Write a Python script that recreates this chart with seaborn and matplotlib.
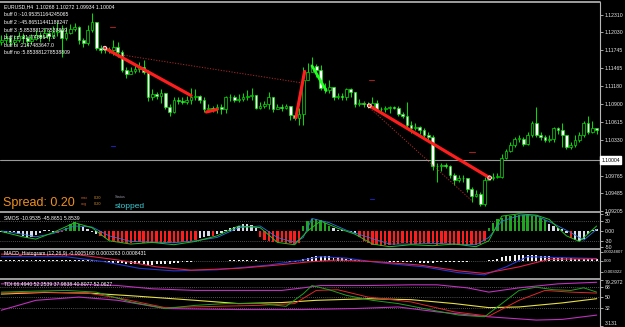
import numpy as np
import matplotlib
matplotlib.use("Agg")
import matplotlib.pyplot as plt
import seaborn as sns
from matplotlib.lines import Line2D

sns.set_theme(style="dark", rc={"axes.facecolor": "black", "figure.facecolor": "black"})
plt.rcParams["font.family"] = ["Liberation Sans", "DejaVu Sans"]

# ---------------- data ----------------
open_first = 1.1188
closes = [1.1191, 1.1194, 1.1188, 1.1191, 1.1197, 1.1194, 1.1189, 1.1193, 1.1199, 1.1196,
          1.1202, 1.1197, 1.1204, 1.1207, 1.1194, 1.1202, 1.1208, 1.1211, 1.1191, 1.1186,
          1.1207, 1.1219, 1.1178, 1.1175, 1.1177, 1.1175, 1.1180, 1.1172, 1.1144, 1.1137,
          1.1142, 1.1145, 1.1148, 1.1141, 1.1100, 1.1106, 1.1103, 1.1107, 1.1085, 1.1077,
          1.1096, 1.1095, 1.1093, 1.1096, 1.1101, 1.1103, 1.1096, 1.1081, 1.1084, 1.1082,
          1.1085, 1.1081, 1.1100, 1.1101, 1.1096, 1.1098, 1.1101, 1.1103, 1.1104, 1.1084,
          1.1087, 1.1090, 1.1100, 1.1081, 1.1085, 1.1084, 1.1087, 1.1073, 1.1068, 1.1074,
          1.1128, 1.1141, 1.1150, 1.1144, 1.1115, 1.1112, 1.1117, 1.1100, 1.1103, 1.1101,
          1.1114, 1.1109, 1.1090, 1.1092, 1.1089, 1.1087, 1.1092, 1.1082, 1.1081, 1.1084,
          1.1085, 1.1084, 1.1074, 1.1071, 1.1057, 1.1052, 1.1054, 1.1048, 1.1040, 1.1037,
          1.0991, 1.0992, 1.0994, 1.0992, 1.0977, 1.0970, 1.0973, 1.0972, 1.0955, 1.0945,
          1.0947, 1.0931, 1.0970, 1.0973, 1.0975, 1.0975, 1.1005, 1.1016, 1.1025, 1.1035,
          1.1035, 1.1027, 1.1041, 1.1059, 1.1041, 1.1037, 1.1033, 1.1035, 1.1051, 1.1048,
          1.1041, 1.1021, 1.1025, 1.1033, 1.1041, 1.1059, 1.1046, 1.1052, 1.1048]
highs = [1.1199, 1.1202, 1.1197, 1.1199, 1.1204, 1.1202, 1.1197, 1.1200, 1.1207, 1.1204,
         1.1210, 1.1207, 1.1213, 1.1219, 1.1215, 1.1211, 1.1216, 1.1218, 1.1213, 1.1194,
         1.1215, 1.1234, 1.1219, 1.1183, 1.1182, 1.1180, 1.1191, 1.1188, 1.1175, 1.1148,
         1.1148, 1.1153, 1.1156, 1.1159, 1.1144, 1.1114, 1.1109, 1.1114, 1.1107, 1.1090,
         1.1101, 1.1100, 1.1100, 1.1103, 1.1115, 1.1114, 1.1104, 1.1100, 1.1089, 1.1087,
         1.1090, 1.1089, 1.1103, 1.1106, 1.1104, 1.1106, 1.1107, 1.1111, 1.1115, 1.1104,
         1.1093, 1.1095, 1.1109, 1.1101, 1.1090, 1.1090, 1.1090, 1.1087, 1.1076, 1.1084,
         1.1148, 1.1155, 1.1164, 1.1153, 1.1152, 1.1123, 1.1128, 1.1115, 1.1107, 1.1107,
         1.1115, 1.1115, 1.1109, 1.1098, 1.1095, 1.1093, 1.1100, 1.1096, 1.1085, 1.1087,
         1.1087, 1.1087, 1.1087, 1.1077, 1.1093, 1.1062, 1.1059, 1.1055, 1.1052, 1.1046,
         1.1040, 1.0997, 1.0997, 1.0997, 1.0994, 1.0980, 1.0978, 1.0978, 1.0970, 1.0959,
         1.0953, 1.0951, 1.0975, 1.0978, 1.0980, 1.0980, 1.1010, 1.1019, 1.1030, 1.1038,
         1.1040, 1.1038, 1.1046, 1.1063, 1.1085, 1.1046, 1.1040, 1.1041, 1.1054, 1.1054,
         1.1060, 1.1041, 1.1030, 1.1040, 1.1046, 1.1063, 1.1070, 1.1062, 1.1052]
lows = [1.1183, 1.1185, 1.1182, 1.1183, 1.1188, 1.1186, 1.1182, 1.1185, 1.1191, 1.1188,
        1.1194, 1.1189, 1.1194, 1.1197, 1.1164, 1.1191, 1.1200, 1.1205, 1.1185, 1.1180,
        1.1183, 1.1204, 1.1175, 1.1170, 1.1170, 1.1170, 1.1167, 1.1164, 1.1141, 1.1131,
        1.1137, 1.1139, 1.1141, 1.1137, 1.1095, 1.1096, 1.1098, 1.1092, 1.1082, 1.1070,
        1.1076, 1.1090, 1.1090, 1.1090, 1.1090, 1.1096, 1.1092, 1.1077, 1.1079, 1.1077,
        1.1076, 1.1074, 1.1076, 1.1095, 1.1093, 1.1093, 1.1095, 1.1096, 1.1096, 1.1081,
        1.1082, 1.1084, 1.1081, 1.1077, 1.1081, 1.1079, 1.1081, 1.1065, 1.1065, 1.1057,
        1.1057, 1.1128, 1.1141, 1.1133, 1.1112, 1.1107, 1.1107, 1.1096, 1.1098, 1.1096,
        1.1096, 1.1100, 1.1085, 1.1087, 1.1085, 1.1084, 1.1084, 1.1079, 1.1077, 1.1077,
        1.1076, 1.1081, 1.1071, 1.1068, 1.1054, 1.1044, 1.1048, 1.1043, 1.1037, 1.1033,
        1.0986, 1.0966, 1.0983, 1.0988, 1.0973, 1.0962, 1.0966, 1.0966, 1.0950, 1.0934,
        1.0942, 1.0928, 1.0929, 1.0969, 1.0970, 1.0972, 1.0972, 1.1002, 1.1013, 1.1022,
        1.1029, 1.1024, 1.1025, 1.1037, 1.1038, 1.1032, 1.1030, 1.1029, 1.1029, 1.1043,
        1.1022, 1.1018, 1.1018, 1.1022, 1.1029, 1.1038, 1.1043, 1.1044, 1.1043]

bid_price = 1.10004
price_ticks = [1.12310, 1.12030, 1.11745, 1.11465, 1.11180, 1.10900, 1.10615,
               1.10330, 1.09765, 1.09485, 1.09205]
price_tick_labels = ["1.12310", "1.12030", "1.11745", "1.11465", "1.11180", "1.10900",
                     "1.10615", "1.10330", "1.09765", "1.09485", "1.09205"]

# trend lines on price chart (bar index, price)
red_seg_x0 = [24.0, 47.5, 68.3, 85.3]
red_seg_x1 = [44.0, 50.0, 70.3, 113.2]
red_seg_y0 = [1.1178, 1.1077, 1.1068, 1.1087]
red_seg_y1 = [1.1103, 1.1081, 1.1141, 1.0973]
green_seg_x = [72.0, 75.3]
green_seg_y = [1.1150, 1.1111]
dot_seg_x0 = [25.3, 84.0]
dot_seg_x1 = [69.7, 109.2]
dot_seg_y0 = [1.1170, 1.1092]
dot_seg_y1 = [1.1123, 1.0936]

# SMOS oscillator
smos_vals = [-3, -5, -4, -2, -8, -15, -22, -20, -12, -5, 2, 4, -2, -6, -4,
             10, 20, 27, 22, 12, 5, -3, -8,
             -15, -22, -28, -32, -34, -36, -37, -36, -35, -34, -36, -38, -38, -37, -36, -37,
             -38, -36, -34, -33, -32, -30, -28,
             -22, -18, -14, -16, -10, -6,
             3, 8, 12, 16, 20, 22, 18, 10,
             -20, -28, -32, -34, -35, -34, -36, -38, -40, -38,
             15, 30, 36, 36, 32, 25, 15,
             8, 4, 2, 0, -3, -6,
             -20, -30, -38, -42, -44, -45, -44, -43, -42, -40, -38, -38, -40, -41, -40, -38,
             -36, -38, -42, -40, -38, -40, -42, -43, -42, -42, -43, -42, -40, -30,
             10, 25, 35, 40, 44, 46, 47, 48, 48, 47, 46, 45, 40, 32,
             22, 15, 10, 5, -5, -22, -28, -30, -25, -10, 2, 6]
smos_cols = ("wwwwwwwwwwwwwrr" "gggg" "wwww"
             "rrrrrrrrrrrrrrrrrrrrrrr" "wwwrww" "wwwwwwww" "rrrrrrrrrr" "ggggggg" "wwwwww"
             "rrrrrrrrrrrrrrrrrrrrrrrrrrrrrr" "gggggggggggggg" "wwwww" "r" "wwwwww")
smos_green_x = [0, 5, 8, 12, 17, 21, 25, 30, 35, 40, 45, 50, 55, 60, 64, 68, 71, 74, 78,
                82, 86, 90, 95, 100, 105, 110, 113, 116, 120, 124, 127, 131, 134, 138]
smos_green_y = [-2, -18, -25, -5, 25, 10, -30, -40, -35, -42, -32, -15, 15, 10, -35, -42,
                0, 30, 8, -10, -40, -48, -42, -45, -40, -48, -30, 45, 52, 48, 35, -15, -32, 15]
smos_blue_x = [0, 5, 8, 12, 17, 21, 25, 30, 35, 40, 45, 50, 55, 60, 64, 68, 70, 72, 76,
               80, 84, 90, 95, 100, 105, 110, 113, 116, 120, 124, 128, 132, 135, 138]
smos_blue_y = [0, -10, -18, -8, 15, 12, -15, -32, -34, -36, -30, -20, 10, 15, -20, -35,
               -20, 38, 25, 2, -15, -40, -40, -38, -40, -42, -20, 30, 46, 46, 22, -5, -28, 5]

# MACD histogram
macd_hist = [
    0.0003, 0.0003, 0.0003, 0.0003, 0.0003, 0.0003, 0.0003, 0.0003, 0.0003, 0.0003,
    0.0003, 0.0003, 0.0003, 0.0003, 0.0003, 0.0003, 0.0003, 0.0003, 0.0003, 0.0003,
    0.0003, 0.0003, 0.0003,
    -0.0002, -0.0003, -0.0004, -0.0005, -0.0006, -0.0007, -0.0008, -0.0009, -0.0009,
    -0.0010, -0.0010, -0.0011, -0.0011, -0.0010, -0.0010, -0.0009, -0.0008,
    -0.0006, -0.0005, -0.0004, -0.0003, -0.0003, -0.0002, -0.0002, -0.0002, -0.0002,
    -0.0002, -0.0002, -0.0001, -0.0001, 0.0001, 0.0001, 0.0001, 0.0001, 0.0001, 0.0001,
    0.0001, -0.0001, -0.0001, -0.0002, -0.0002, -0.0002, -0.0002, -0.0002, -0.0003, -0.0003,
    -0.0001, 0.0004, 0.0008, 0.0011, 0.0013, 0.0014, 0.0014, 0.0013, 0.0011, 0.0009, 0.0007,
    0.0005, 0.0004, 0.0003, 0.0002, 0.0001, -0.0001, -0.0001, -0.0002, -0.0002, -0.0002,
    -0.0003, -0.0003,
    -0.0003, -0.0003, -0.0004, -0.0004, -0.0004, -0.0005, -0.0005, -0.0005, -0.0005,
    -0.0004, -0.0004, -0.0004, -0.0004, -0.0003, -0.0003, -0.0003, -0.0003, -0.0002,
    -0.0002, -0.0001, -0.0001,
    0.0001, 0.0003, 0.0006, 0.0009, 0.0012, 0.0014, 0.0016, 0.0017, 0.0017, 0.0017,
    0.0016, 0.0015, 0.0014, 0.0013, 0.0012, 0.0011, 0.0010, 0.0009, 0.0008, 0.0007,
    0.0006, 0.0005, 0.0005, 0.0004, 0.0004, 0.0004]
macd_red_x = [0, 18, 27, 36, 44, 55, 64, 71.5, 78, 87, 97, 106, 112, 120, 127, 138]
macd_red_y = [0.0018, 0.0016, 0.0002, -0.0017, -0.0026, -0.0021, -0.0012, -0.0003,
              0.0002, -0.0003, -0.0012, -0.0028, -0.0035, -0.0017, 0.0004, 0.0005]
macd_blue_x = [0, 15, 24, 32, 40, 50, 62, 70, 74, 80, 88, 98, 106, 112, 117, 122, 128, 138]
macd_blue_y = [0.0011, 0.0011, -0.0003, -0.0021, -0.0028, -0.0025, -0.0012, 0.0002,
               0.0011, 0.0007, -0.0006, -0.0017, -0.0033, -0.0039, -0.0017, 0.0011,
               0.0009, 0.0006]

# TDI
tdi_up_x = [0, 10, 20, 27, 35, 45, 55, 65, 70, 74, 85, 95, 101, 108, 113, 120, 129, 138]
tdi_up_y = [72.4, 72.4, 71.3, 69.6, 64.2, 61.5, 61.5, 61.5, 65.8, 69.6, 69.6, 70.8, 70.8,
            65.8, 58.7, 65.8, 72.4, 75.0]
tdi_lo_x = [0, 8, 18, 27, 38, 55, 70, 82, 92, 101, 113, 124, 130, 138]
tdi_lo_y = [28.7, 45.1, 50.5, 45.1, 31.5, 29.8, 29.8, 31.5, 34.1, 26.0, 17.8, 12.4, 13.5, 20.6]
tdi_base_x = [0, 10, 20, 30, 45, 55, 65, 73, 85, 95, 105, 113, 120, 130, 138]
tdi_base_y = [55.5, 58.2, 57.1, 52.7, 45.1, 39.7, 41.4, 45.1, 47.8, 46.2, 39.7, 33.0, 34.1,
              40.8, 47.8]
tdi_sig_x = [0, 10, 20, 28, 38, 50, 60, 68, 73, 78, 85, 95, 105, 113, 120, 126, 132, 138]
tdi_sig_y = [57.1, 58.7, 57.1, 47.8, 33.0, 35.2, 36.8, 39.7, 61.5, 62.6, 50.5, 42.4, 26.0,
             18.9, 45.1, 61.5, 58.7, 57.1]
tdi_rsi_x = [0, 8, 15, 22, 30, 38, 45, 52, 60, 66, 70, 72, 76, 80, 86, 92, 100, 106, 112,
             116, 120, 124, 128, 132, 135, 138]
tdi_rsi_y = [58.7, 60.4, 61.5, 58.7, 42.4, 31.5, 36.8, 39.7, 39.7, 35.2, 56.0, 69.6, 62.6,
             53.3, 45.1, 39.7, 28.7, 20.6, 17.8, 39.7, 61.5, 66.9, 62.6, 61.5, 65.8, 58.7]

# ---------------- figure ----------------
W, H = 625, 327
fig = plt.figure(figsize=(6.25, 3.27), dpi=100)
fig.patch.set_facecolor("black")


def rect(top, bottom, left=0, right=600):
    return [left / W, 1 - bottom / H, (right - left) / W, (bottom - top) / H]


ax = fig.add_axes(rect(3, 211))
ax_s = fig.add_axes(rect(213.5, 248))
ax_m = fig.add_axes(rect(250, 278))
ax_t = fig.add_axes(rect(279.5, 327))

n = len(closes)
idx = np.arange(n)
XL = (-0.3, 138.77)
FS = 3.7
TICKC = "#e8e8e8"

for a in (ax, ax_s, ax_m, ax_t):
    a.set_facecolor("black")
    a.set_xlim(*XL)
    a.grid(False)
    for s in a.spines.values():
        s.set_visible(False)
    a.set_xticks([])
    a.yaxis.tick_right()
    a.tick_params(axis="y", colors=TICKC, labelsize=FS, length=2, width=0.5, pad=1.2,
                  direction="out")

# candles
c = np.array(closes)
o = np.array([open_first] + closes[:-1])
hi = np.maximum(np.array(highs), np.maximum(o, c))
lo = np.minimum(np.array(lows), np.minimum(o, c))
ax.vlines(idx, lo, hi, color="#00e800", lw=0.7, zorder=2)
body_bottom = np.minimum(o, c)
body_h = np.maximum(np.abs(c - o), 0.00006)
face = ["black" if cc >= oo else "white" for cc, oo in zip(c, o)]
ax.bar(idx, body_h, bottom=body_bottom, width=0.62, color=face, edgecolor="#00e800",
       linewidth=0.5, zorder=3)

ax.set_ylim(1.09215, 1.12493)
ax.set_yticks(price_ticks)
ax.set_yticklabels(price_tick_labels)
ax.axhline(bid_price, color="#9a9a9a", lw=0.8, zorder=1)

# overlays
for x0, x1, y0, y1 in zip(red_seg_x0, red_seg_x1, red_seg_y0, red_seg_y1):
    ax.plot([x0, x1], [y0, y1], color="#ff1e1e", lw=2.3, solid_capstyle="round", zorder=5)
ax.plot(green_seg_x, green_seg_y, color="#22ff22", lw=2.0, solid_capstyle="round", zorder=5)
for x0, x1, y0, y1 in zip(dot_seg_x0, dot_seg_x1, dot_seg_y0, dot_seg_y1):
    ax.plot([x0, x1], [y0, y1], color="#b02828", lw=0.7, ls=(0, (1.2, 1.6)), zorder=4)
ax.scatter([red_seg_x0[0], red_seg_x0[3], red_seg_x1[3]],
           [red_seg_y0[0], red_seg_y0[3], red_seg_y1[3]],
           s=7, facecolor="none", edgecolor="white", linewidth=0.6, zorder=6)
ax.plot([25.3, 26.4], [1.1211, 1.1211], color="#a02020", lw=0.8)
ax.plot([85.3, 86.4], [1.1128, 1.1128], color="#a02020", lw=0.8)
ax.plot([108.5, 109.7], [1.1014, 1.1014], color="#a02020", lw=0.8)
ax.plot([25.5, 26.4], [1.1024, 1.1024], color="#2020b0", lw=0.8)
ax.plot([85.4, 86.3], [1.0939, 1.0939], color="#2020b0", lw=0.8)

# current price box
fig.text(601.5 / W, 1 - 160 / H, "1.10004", fontsize=FS, color="black", va="center",
         ha="left", bbox=dict(boxstyle="square,pad=0.2", fc="white", ec="white"))

# SMOS panel
pal = {"r": "#ff1c1c", "g": "#1fa51f", "w": "#d6dbe8"}
ax_s.bar(idx, smos_vals, width=0.55, color=[pal[k] for k in smos_cols], linewidth=0,
         edgecolor="none", zorder=2)
sns.lineplot(x=smos_blue_x, y=smos_blue_y, ax=ax_s, color="#2f74e0", lw=0.6, zorder=3)
sns.lineplot(x=smos_green_x, y=smos_green_y, ax=ax_s, color="#1fc01f", lw=0.7, zorder=3)
for lv in (30, -30):
    ax_s.axhline(lv, color="#9a9a9a", lw=0.5, ls=(0, (1, 2)), zorder=1)
ax_s.set_ylim(-52, 53)
ax_s.set_yticks([50, 30, 0, -30, -50])
ax_s.set_yticklabels(["50", "30", "0.00", "-30", "-50"])

# MACD panel
ax_m.bar(idx, macd_hist, width=0.45, color="#f0f0f0", linewidth=0, edgecolor="none",
         zorder=2)
ax_m.axhline(0, color="#9a9a9a", lw=0.5, ls=(0, (1, 2)), zorder=1)
sns.lineplot(x=macd_blue_x, y=macd_blue_y, ax=ax_m, color="#2438d0", lw=0.8, zorder=3)
sns.lineplot(x=macd_red_x, y=macd_red_y, ax=ax_m, color="#e0204a", lw=0.8, zorder=3)
ax_m.set_ylim(-0.00476, 0.00294)
ax_m.set_yticks([0.0024807, 0.0, -0.003022])
ax_m.set_yticklabels(["0.0024807", "0.00", "-0.003022"])
ax_m.tick_params(axis="y", labelsize=3.1, pad=0.8)

# TDI panel
for lv in (68, 50, 32):
    ax_t.axhline(lv, color="#9a9a9a", lw=0.5, ls=(0, (1, 2)), zorder=1)
sns.lineplot(x=tdi_up_x, y=tdi_up_y, ax=ax_t, color="#c030c0", lw=0.8)
sns.lineplot(x=tdi_lo_x, y=tdi_lo_y, ax=ax_t, color="#c030c0", lw=0.8)
sns.lineplot(x=tdi_base_x, y=tdi_base_y, ax=ax_t, color="#e8e040", lw=0.8)
sns.lineplot(x=tdi_sig_x, y=tdi_sig_y, ax=ax_t, color="#e02828", lw=0.7)
sns.lineplot(x=tdi_rsi_x, y=tdi_rsi_y, ax=ax_t, color="#20a020", lw=0.7)
ax_t.set_ylim(0.9, 79.6)
ax_t.set_yticks([79.2972, 68, 50, 32, 3.131])
ax_t.set_yticklabels(["79.2972", "68", "50", "32", "3.131"])
tl = ax_t.get_yticklabels()
tl[0].set_va("top")
tl[-1].set_va("bottom")

for a in (ax, ax_s, ax_m, ax_t):
    a.set_xlabel("")
    a.set_ylabel("")
    a.set_xlim(*XL)

# frame / separators
for yy in (2, 212, 249, 279):
    fig.add_artist(Line2D([0, 600 / W], [1 - yy / H] * 2, color="#b8b8b8", lw=1.2))
fig.add_artist(Line2D([600 / W] * 2, [0, 1 - 2 / H], color="#b8b8b8", lw=0.8))


def ftext(x, y, s, **kw):
    fig.text(x / W, 1 - y / H, s, va="center", ha="left", **kw)


ftext(4, 7, "EURUSD,H4  1.10268 1.10272 1.09934 1.10004", fontsize=FS, color="white")
buff_lines = ["buff 0 :-10.95351164245065", "buff 2 :-45.86511441188247",
              "buff 3 :5.853881278538809", "buff cd :2147483647.0",
              "buff bi :2147483647.0", "buff no :5.853881278538809"]
for k, s in enumerate(buff_lines):
    ftext(4, 15 + 7.6 * k, s, fontsize=FS, color="white")

ftext(3, 203, "Spread: 0.20", fontsize=9, color="#f0901e")
ftext(81, 198, "max", fontsize=2.8, color="#c05a28")
ftext(94, 198, "0.20", fontsize=2.8, color="#d09030")
ftext(81, 204, "avg", fontsize=2.8, color="#c05a28")
ftext(94, 204, "0.20", fontsize=2.8, color="#d09030")
ftext(115, 197.5, "Status", fontsize=2.8, color="#9090a0")
ftext(115, 206, "stopped", fontsize=6, color="#3cc8d0")

ftext(4, 218, "SMOS -10.9535 -45.8651 5.8539", fontsize=FS, color="white")
ftext(4, 254, "MACD_Histogram (12,26,9) -0.0005168 0.0003263 0.0008431", fontsize=FS,
      color="white")
ftext(4, 284, "TDI 66.4940 52.2539 37.9838 40.8077 52.0627", fontsize=FS, color="white")

fig.savefig("out.png", dpi=100, facecolor="black")
